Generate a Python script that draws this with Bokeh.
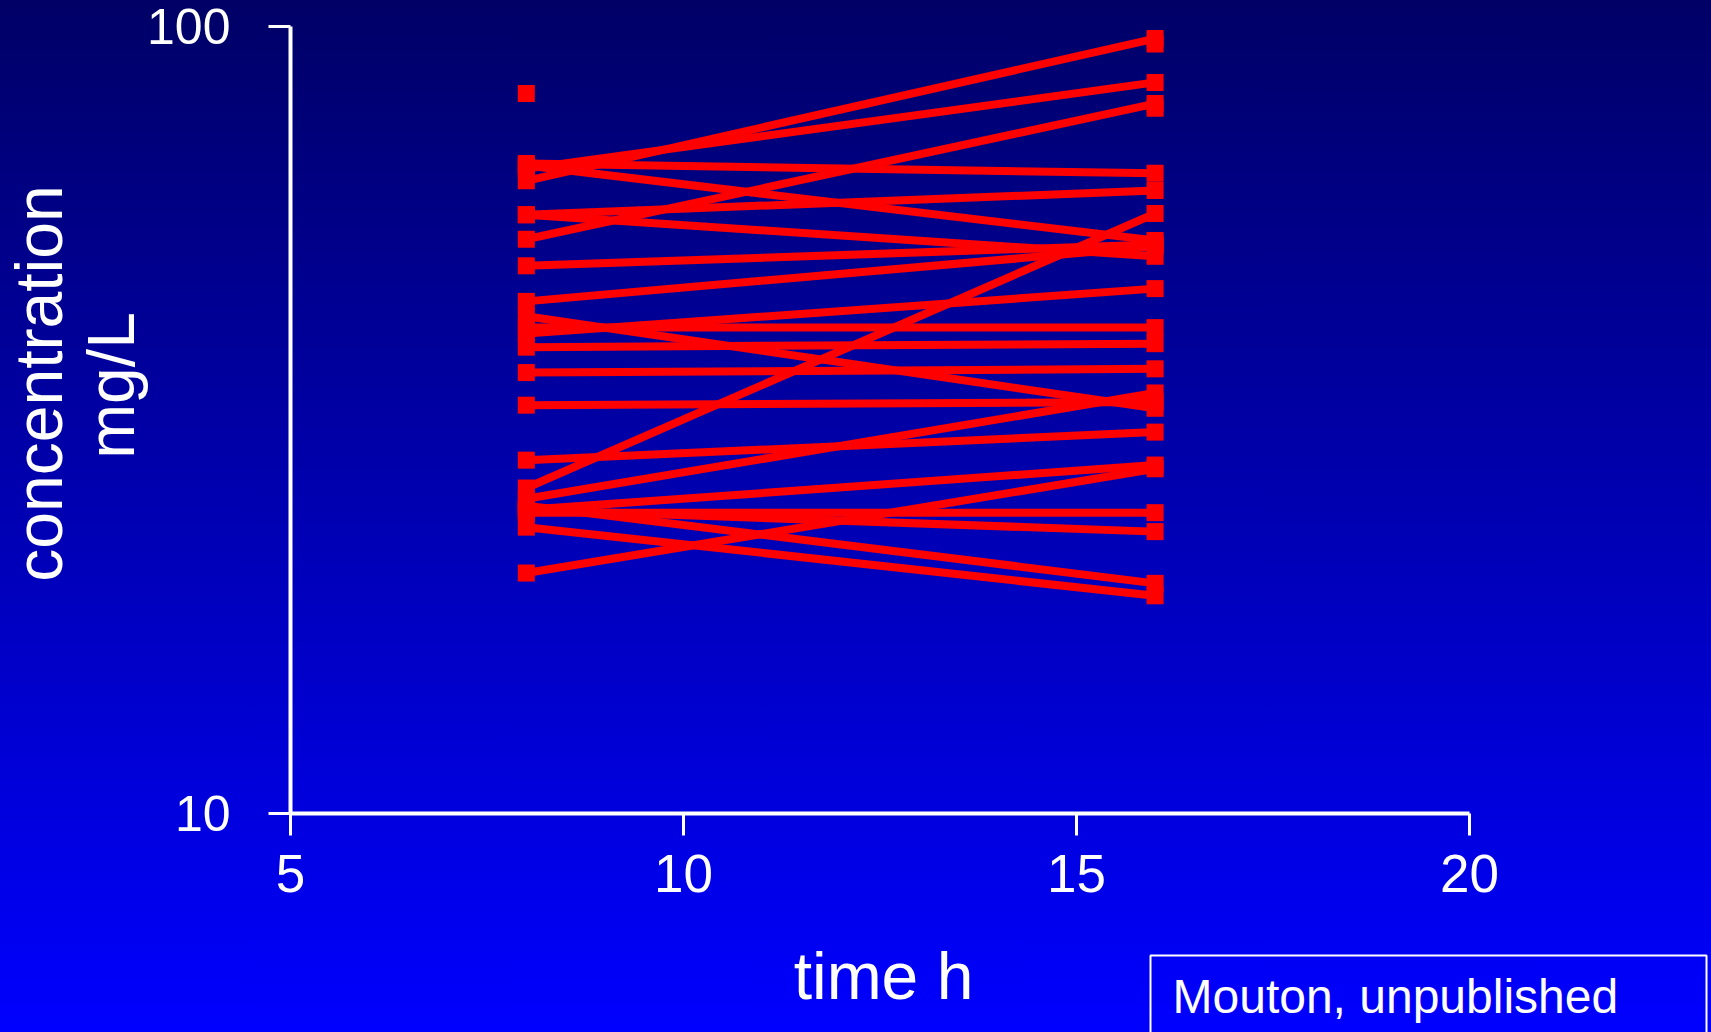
import math
from bokeh.plotting import figure
from bokeh.models import Range1d, FixedTicker, NumeralTickFormatter, Label, BoxAnnotation
from bokeh.embed import file_html
from bokeh.resources import INLINE

# ---- data ----
time_points = [8, 16]
conc_8h = [63.6, 65.9, 53.6, 66.9, 57.6, 25.9, 66.5, 49.6, 44.7, 57.6, 40.7, 41.4,
           39.1, 36.3, 25.1, 33.0, 42.8, 28.1, 24.3, 20.2, 24.1, 24.3, 24.6, 23.1]
conc_16h = [96.4, 84.8, 79.7, 65.0, 61.8, 57.8, 53.4, 52.8, 52.5, 51.0, 46.4, 41.4,
            39.5, 36.7, 34.2, 33.3, 32.7, 30.5, 27.7, 27.4, 24.1, 22.8, 19.6, 18.9]
single_8h = [82.1]
single_16h = [94.9, 78.6]
x_ticks = [5, 10, 15, 20]
y_ticks = [10, 100]
x_title = "time h"
y_title = ["concentration", "mg/L"]
note = "Mouton, unpublished"

FONT = "Liberation Sans"
RED = "#ff0000"

# ---- layout (pixels) ----
W, H = 1711, 1032
AX_L, AX_R = 290.0, 1469.0     # where the x axis starts / ends
AX_T, AX_B = 25.5, 813.0       # where the y axis starts / ends

ppu = (AX_R - AX_L) / (x_ticks[-1] - x_ticks[0])
x_start = x_ticks[0] - AX_L / ppu
x_end = x_ticks[-1] + (W - AX_R) / ppu
ppd = (AX_B - AX_T) / (math.log10(y_ticks[-1]) - math.log10(y_ticks[0]))
y_end = 10 ** (math.log10(y_ticks[-1]) + AX_T / ppd)
y_start = 10 ** (math.log10(y_ticks[0]) - (H - AX_B) / ppd)

p = figure(width=W, height=H,
           x_range=Range1d(x_start, x_end), y_range=Range1d(y_start, y_end),
           y_axis_type="log", output_backend="svg", toolbar_location=None,
           min_border=0, min_border_left=0, min_border_right=0,
           min_border_top=0, min_border_bottom=0)
p.background_fill_alpha = 0
p.border_fill_alpha = 0
p.outline_line_color = None
p.grid.visible = False
p.styles = {"background": "linear-gradient(to bottom, #000066 0%, #0000ff 100%)"}

for ax in (p.xaxis[0], p.yaxis[0]):
    ax.axis_line_color = "white"
    ax.axis_line_width = 4
    ax.major_tick_line_color = "white"
    ax.major_tick_line_width = 3
    ax.major_tick_in = 0
    ax.major_tick_out = 22
    ax.minor_tick_line_color = None
    ax.major_label_text_color = "white"
    ax.major_label_text_font = FONT
    ax.formatter = NumeralTickFormatter(format="0")

p.xaxis.ticker = FixedTicker(ticks=x_ticks, minor_ticks=[])
p.yaxis.ticker = FixedTicker(ticks=y_ticks, minor_ticks=[])
p.xaxis.bounds = (x_ticks[0], x_ticks[-1])
p.yaxis.bounds = (y_ticks[0], y_ticks[-1])
p.xaxis.fixed_location = y_ticks[0]
p.yaxis.fixed_location = x_ticks[0]
p.xaxis.major_label_text_font_size = "53px"
p.yaxis.major_label_text_font_size = "50px"
p.xaxis.major_label_standoff = 19
p.yaxis.major_label_standoff = 38

# axis titles
p.add_layout(Label(x=883, y=H - 975, x_units="screen", y_units="screen", text=x_title,
                   text_align="center", text_baseline="alphabetic",
                   text_font=FONT, text_font_size="66px", text_color="white"))
p.add_layout(Label(x=38, y=H - 383, x_units="screen", y_units="screen", text=y_title[0],
                   angle=math.pi / 2, text_align="center", text_baseline="alphabetic",
                   text_font=FONT, text_font_size="66px", text_color="white"))
p.add_layout(Label(x=110, y=H - 385, x_units="screen", y_units="screen", text=y_title[1],
                   angle=math.pi / 2, text_align="center", text_baseline="alphabetic",
                   text_font=FONT, text_font_size="66px", text_color="white"))

# source note box
p.add_layout(BoxAnnotation(left=1150, right=1706, top=H - 955, bottom=-10,
                           left_units="screen", right_units="screen",
                           top_units="screen", bottom_units="screen",
                           fill_alpha=0, line_color="white", line_width=2, line_alpha=1))
p.add_layout(Label(x=1172, y=H - 996, x_units="screen", y_units="screen", text=note,
                   text_align="left", text_baseline="alphabetic",
                   text_font=FONT, text_font_size="48px", text_color="white"))

xs = [list(time_points) for _ in conc_8h]
ys = [[a, b] for a, b in zip(conc_8h, conc_16h)]
p.multi_line(xs=xs, ys=ys, line_color=RED, line_width=8)

pts_x = [time_points[0]] * len(conc_8h) + [time_points[1]] * len(conc_16h) \
    + [time_points[0]] * len(single_8h) + [time_points[1]] * len(single_16h)
pts_y = conc_8h + conc_16h + single_8h + single_16h
p.scatter(x=pts_x, y=pts_y, marker="square", size=17, fill_color=RED, line_color=None)

open("out.html", "w").write(file_html(p, INLINE))
